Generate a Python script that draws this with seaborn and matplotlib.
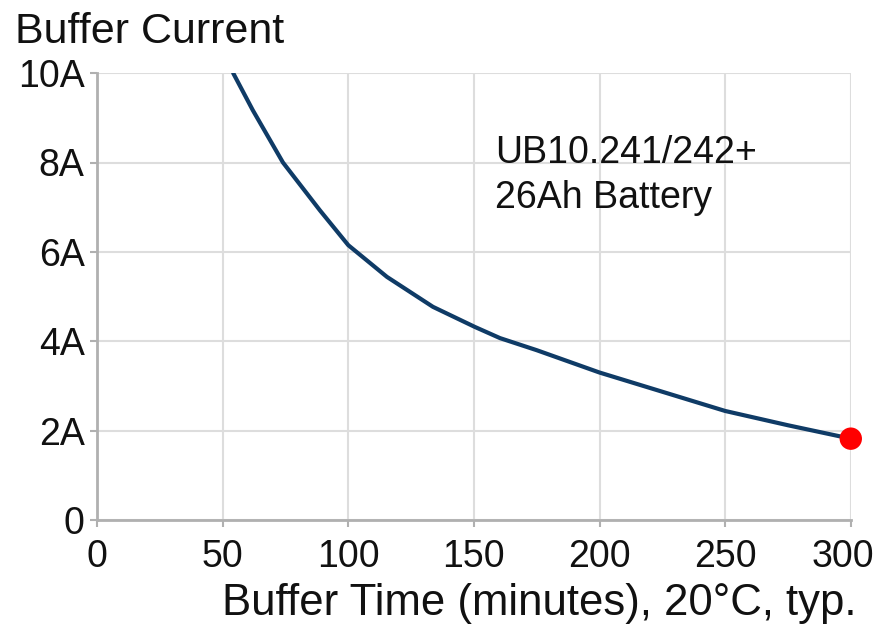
import numpy as np
import pandas as pd
import seaborn as sns
import matplotlib.pyplot as plt
import matplotlib.transforms as mtransforms

# values
minutes = [54.2, 62, 74, 88.7, 100, 115.4, 133.7, 150.4, 160.4, 175, 200, 225, 250, 275, 300]
current = [10.0, 9.17, 8.0, 6.93, 6.15, 5.44, 4.77, 4.32, 4.07, 3.8, 3.3, 2.87, 2.44, 2.12, 1.82]
end_point = {"minutes": [300], "current": [1.82]}

x_ticks = [0, 50, 100, 150, 200, 250, 300]
y_ticks = [0, 2, 4, 6, 8, 10]
y_labels = ["0", "2A", "4A", "6A", "8A", "10A"]

df = pd.DataFrame({"minutes": minutes, "current": current})

sns.set_style("whitegrid")
plt.rcParams["font.family"] = ["Liberation Sans", "DejaVu Sans"]

fig = plt.figure(figsize=(8.78, 6.25), dpi=100)
ax = fig.add_axes([0.1105, 0.168, 0.8585, 0.715])

sns.lineplot(data=df, x="minutes", y="current", ax=ax, color="#0f3b66", linewidth=3)
ax.lines[0].set_solid_joinstyle("round")
sns.scatterplot(data=pd.DataFrame(end_point), x="minutes", y="current", ax=ax,
                color="#ff0000", s=260, edgecolor="none", zorder=5, clip_on=False)

ax.set_xlim(0, 300)
ax.set_ylim(0, 10)
ax.set_xticks(x_ticks)
ax.set_yticks(y_ticks)
ax.set_yticklabels(y_labels)
ax.set_xlabel("")
ax.set_ylabel("")
ax.grid(True, color="#dddddd", linewidth=1.5)
for side in ["top", "right"]:
    ax.spines[side].set_visible(False)
for side in ["left", "bottom"]:
    ax.spines[side].set_color("#b0b0b0")
    ax.spines[side].set_linewidth(2)
ax.tick_params(axis="both", length=5, width=1.5, color="#b0b0b0", labelsize=27,
               labelcolor="#111111", bottom=True, left=True)
ax.tick_params(axis="x", pad=9)
ax.tick_params(axis="y", pad=4)

# last x label sits a little left so it stays inside the figure
last = ax.get_xticklabels()[-1]
last.set_transform(last.get_transform() + mtransforms.ScaledTranslation(-8 / 100, 0, fig.dpi_scale_trans))

fig.text(0.017, 0.931, "Buffer Current", fontsize=31, color="#111111", va="baseline")
fig.text(0.976, 0.016, "Buffer Time (minutes), 20°C, typ.", fontsize=31.5,
         color="#111111", ha="right", va="baseline")
ax.text(158.4, 7.99, "UB10.241/242+", fontsize=27, color="#111111", va="baseline")
ax.text(158.4, 6.98, "26Ah Battery", fontsize=27, color="#111111", va="baseline")

fig.savefig("out.png", dpi=100)
